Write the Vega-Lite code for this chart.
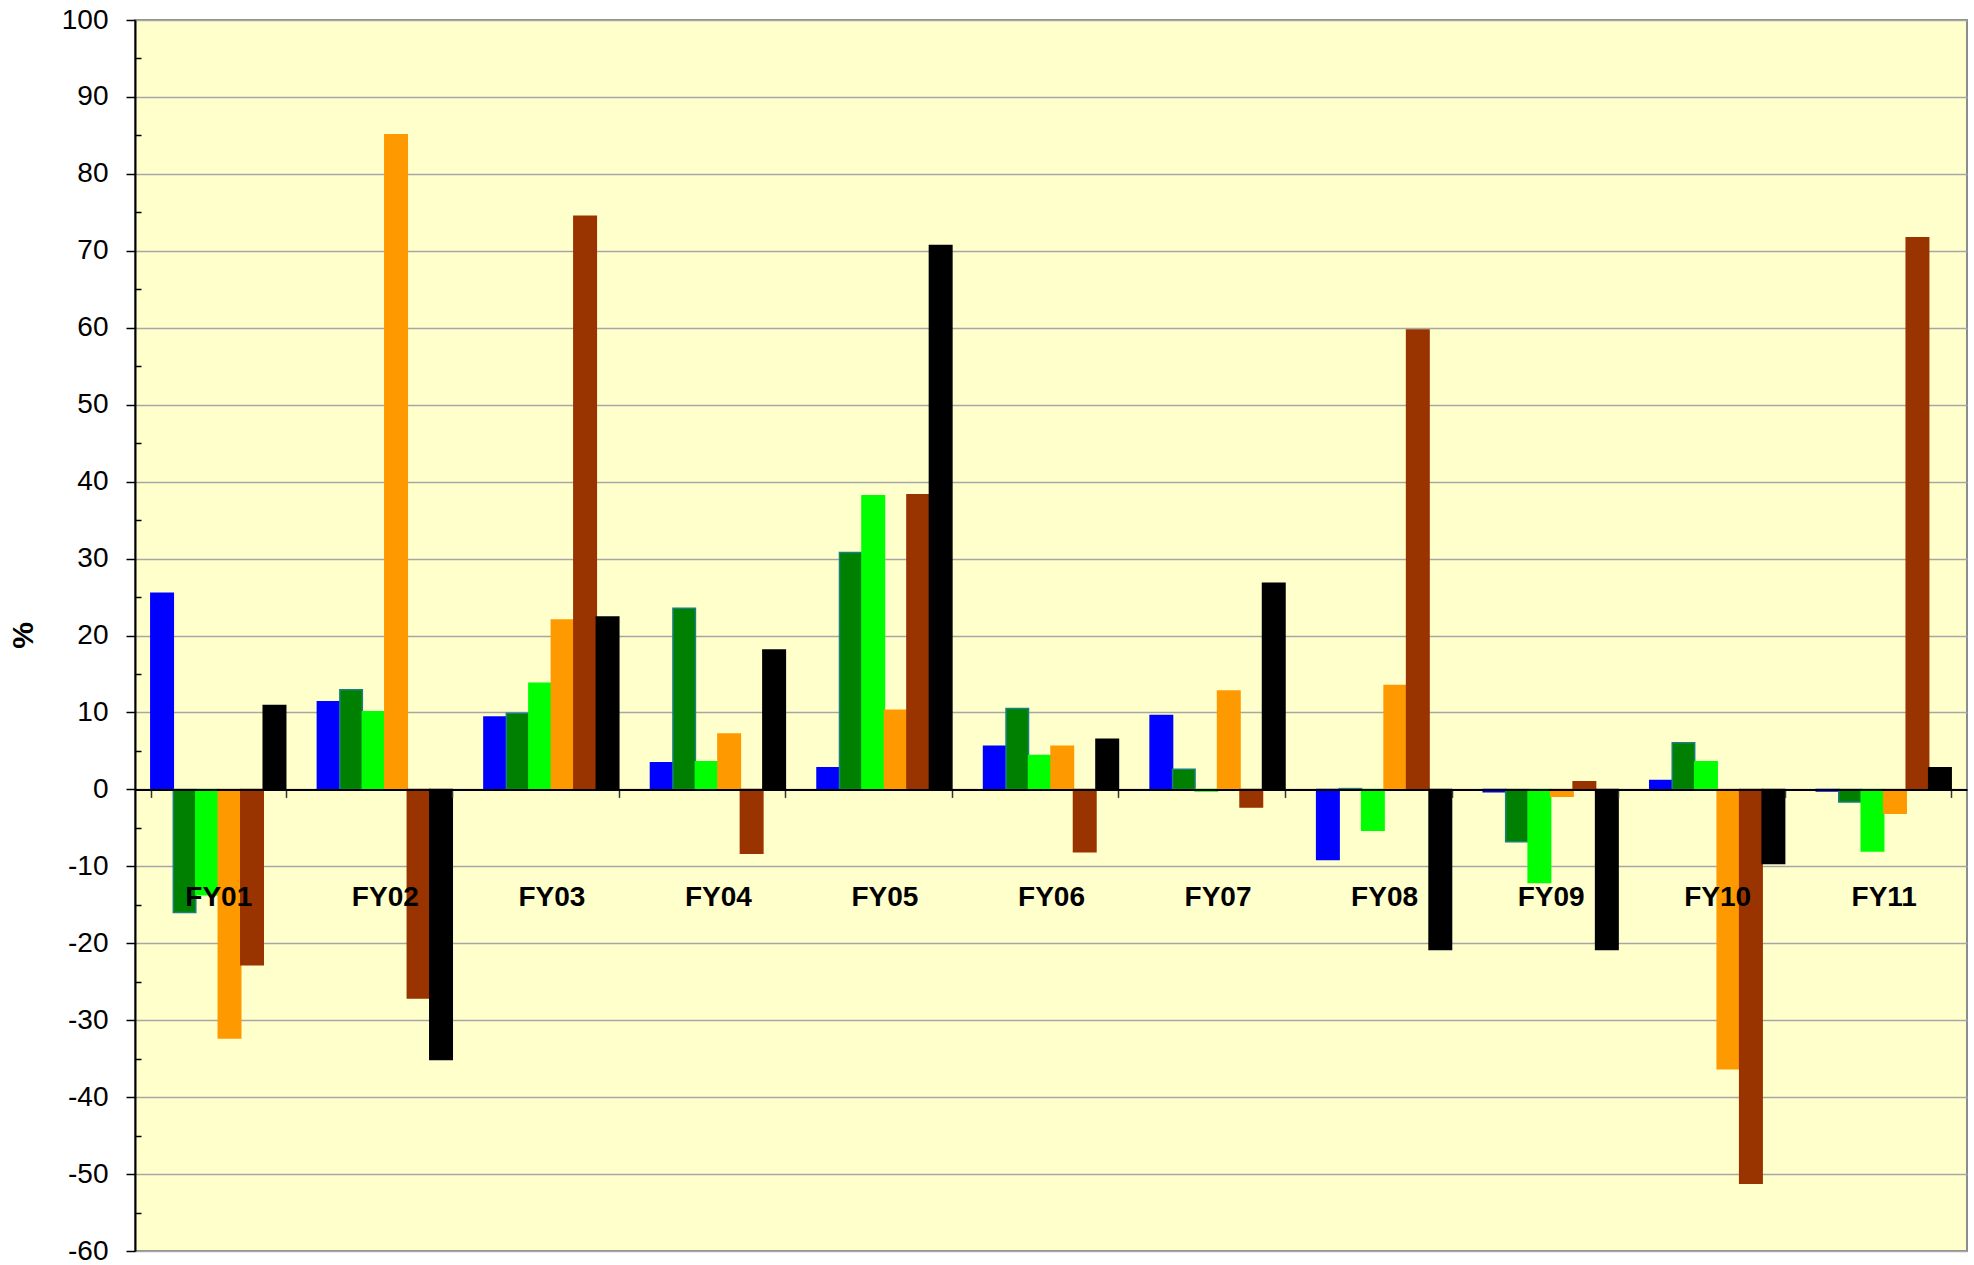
{
  "$schema": "https://vega.github.io/schema/vega-lite/v6.json",
  "autosize": "none",
  "width": 1832,
  "height": 1231,
  "padding": {"left": 135, "top": 20, "right": 7, "bottom": 14},
  "background": "#ffffff",
  "config": {
    "view": {"fill": "#FFFFCC", "stroke": "#8c8c8c", "strokeWidth": 2},
    "font": "Liberation Sans"
  },
  "data": {
    "values": [
      {"fy": "FY01", "series": "S1", "value": 25.5},
      {"fy": "FY01", "series": "S2", "value": -16.0},
      {"fy": "FY01", "series": "S3", "value": -13.7},
      {"fy": "FY01", "series": "S4", "value": -32.3},
      {"fy": "FY01", "series": "S5", "value": -22.8},
      {"fy": "FY01", "series": "S6", "value": 10.9},
      {"fy": "FY02", "series": "S1", "value": 11.4},
      {"fy": "FY02", "series": "S2", "value": 12.95},
      {"fy": "FY02", "series": "S3", "value": 10.1},
      {"fy": "FY02", "series": "S4", "value": 85.1},
      {"fy": "FY02", "series": "S5", "value": -27.1},
      {"fy": "FY02", "series": "S6", "value": -35.1},
      {"fy": "FY03", "series": "S1", "value": 9.4},
      {"fy": "FY03", "series": "S2", "value": 9.9},
      {"fy": "FY03", "series": "S3", "value": 13.8},
      {"fy": "FY03", "series": "S4", "value": 22.0},
      {"fy": "FY03", "series": "S5", "value": 74.5},
      {"fy": "FY03", "series": "S6", "value": 22.4},
      {"fy": "FY04", "series": "S1", "value": 3.45},
      {"fy": "FY04", "series": "S2", "value": 23.55},
      {"fy": "FY04", "series": "S3", "value": 3.6},
      {"fy": "FY04", "series": "S4", "value": 7.2},
      {"fy": "FY04", "series": "S5", "value": -8.3},
      {"fy": "FY04", "series": "S6", "value": 18.1},
      {"fy": "FY05", "series": "S1", "value": 2.8},
      {"fy": "FY05", "series": "S2", "value": 30.8},
      {"fy": "FY05", "series": "S3", "value": 38.15},
      {"fy": "FY05", "series": "S4", "value": 10.3},
      {"fy": "FY05", "series": "S5", "value": 38.3},
      {"fy": "FY05", "series": "S6", "value": 70.7},
      {"fy": "FY06", "series": "S1", "value": 5.6},
      {"fy": "FY06", "series": "S2", "value": 10.5},
      {"fy": "FY06", "series": "S3", "value": 4.4},
      {"fy": "FY06", "series": "S4", "value": 5.6},
      {"fy": "FY06", "series": "S5", "value": -8.1},
      {"fy": "FY06", "series": "S6", "value": 6.5},
      {"fy": "FY07", "series": "S1", "value": 9.6},
      {"fy": "FY07", "series": "S2", "value": 2.6},
      {"fy": "FY07", "series": "S3", "value": -0.2},
      {"fy": "FY07", "series": "S4", "value": 12.8},
      {"fy": "FY07", "series": "S5", "value": -2.3},
      {"fy": "FY07", "series": "S6", "value": 26.8},
      {"fy": "FY08", "series": "S1", "value": -9.1},
      {"fy": "FY08", "series": "S2", "value": 0.1},
      {"fy": "FY08", "series": "S3", "value": -5.3},
      {"fy": "FY08", "series": "S4", "value": 13.5},
      {"fy": "FY08", "series": "S5", "value": 59.7},
      {"fy": "FY08", "series": "S6", "value": -20.8},
      {"fy": "FY09", "series": "S1", "value": -0.3},
      {"fy": "FY09", "series": "S2", "value": -6.8},
      {"fy": "FY09", "series": "S3", "value": -12.1},
      {"fy": "FY09", "series": "S4", "value": -0.9},
      {"fy": "FY09", "series": "S5", "value": 1.0},
      {"fy": "FY09", "series": "S6", "value": -20.8},
      {"fy": "FY10", "series": "S1", "value": 1.15},
      {"fy": "FY10", "series": "S2", "value": 6.05},
      {"fy": "FY10", "series": "S3", "value": 3.6},
      {"fy": "FY10", "series": "S4", "value": -36.3},
      {"fy": "FY10", "series": "S5", "value": -51.2},
      {"fy": "FY10", "series": "S6", "value": -9.65},
      {"fy": "FY11", "series": "S1", "value": -0.2},
      {"fy": "FY11", "series": "S2", "value": -1.65},
      {"fy": "FY11", "series": "S3", "value": -8.0},
      {"fy": "FY11", "series": "S4", "value": -3.1},
      {"fy": "FY11", "series": "S5", "value": 71.7},
      {"fy": "FY11", "series": "S6", "value": 2.8}
    ]
  },
  "mark": {"type": "bar", "strokeWidth": 1.5},
  "encoding": {
    "x": {
      "field": "fy",
      "type": "nominal",
      "sort": null,
      "scale": {"paddingInner": 0.19, "paddingOuter": 0.095},
      "axis": {
        "orient": "bottom",
        "offset": -461.6,
        "title": null,
        "domainColor": "#000000",
        "domainWidth": 2,
        "tickBand": "extent",
        "tickSize": 8,
        "tickColor": "#333333",
        "tickWidth": 1.5,
        "labelAngle": 0,
        "labelFont": "Liberation Sans",
        "labelFontSize": 28,
        "labelFontWeight": "bold",
        "labelColor": "#000000",
        "labelPadding": 86,
        "zindex": 1
      }
    },
    "xOffset": {
      "field": "series",
      "type": "nominal",
      "sort": null,
      "scale": {"paddingInner": 0, "paddingOuter": 0}
    },
    "y": {
      "field": "value",
      "type": "quantitative",
      "scale": {"domain": [-60, 100], "nice": false, "zero": false},
      "axis": {
        "values": [-60, -55, -50, -45, -40, -35, -30, -25, -20, -15, -10, -5, 0, 5, 10, 15, 20, 25, 30, 35, 40, 45, 50, 55, 60, 65, 70, 75, 80, 85, 90, 95, 100],
        "labelExpr": "datum.value % 10 === 0 ? '' + datum.value : ''",
        "tickSize": {"condition": {"test": "datum.value % 10 !== 0", "value": -6}, "value": 9},
        "tickColor": "#000000",
        "tickWidth": 1.5,
        "gridOpacity": {"condition": {"test": "datum.value % 10 !== 0", "value": 0}, "value": 1},
        "grid": true,
        "gridColor": "#a6a6a6",
        "gridWidth": 1.5,
        "domainColor": "#000000",
        "domainWidth": 2,
        "labelFont": "Liberation Sans",
        "labelFontSize": 28,
        "labelColor": "#000000",
        "labelPadding": 18,
        "labelOverlap": false,
        "title": "%",
        "titleFont": "Liberation Sans",
        "titleFontSize": 30,
        "titleFontWeight": "bold",
        "titleColor": "#000000",
        "titleAngle": -90,
        "titleX": -112,
        "titleY": 615,
        "titleBaseline": "middle",
        "titleAlign": "center"
      }
    },
    "color": {
      "field": "series",
      "type": "nominal",
      "scale": {"domain": ["S1", "S2", "S3", "S4", "S5", "S6"], "range": ["#0000FF", "#008000", "#00FF00", "#FF9900", "#993300", "#000000"]},
      "legend": null
    },
    "stroke": {
      "field": "series",
      "type": "nominal",
      "scale": {"domain": ["S1", "S2", "S3", "S4", "S5", "S6"], "range": ["#0000FF", "#1a7f7f", "#00FF00", "#FF9900", "#993300", "#000000"]},
      "legend": null
    }
  }
}
